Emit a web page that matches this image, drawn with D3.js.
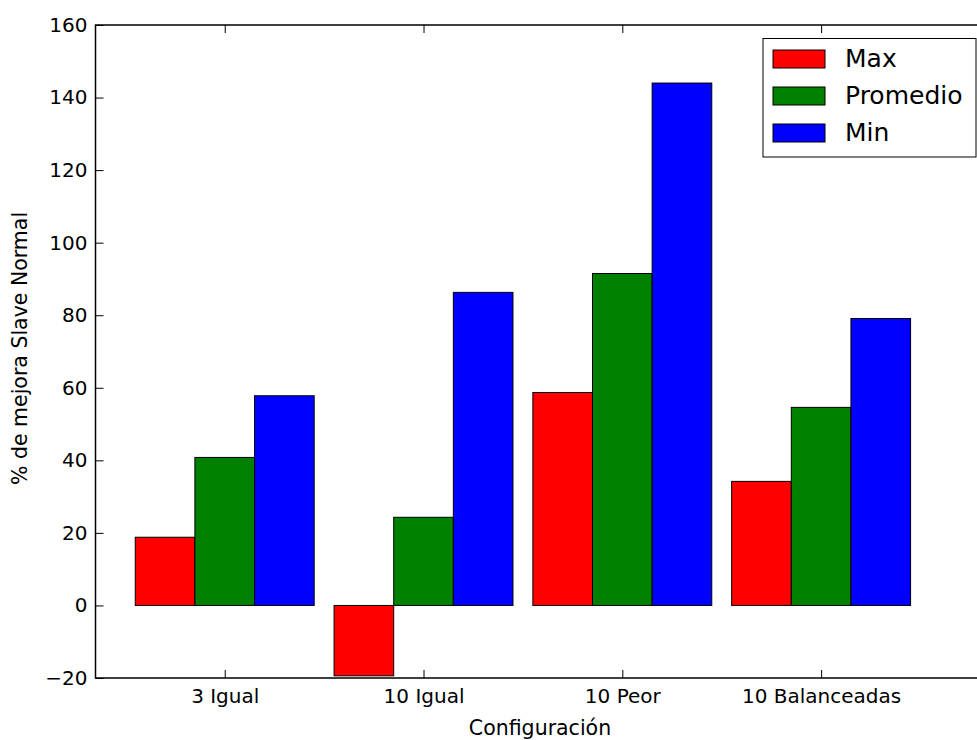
<!DOCTYPE html>
<html>
<head>
<meta charset="utf-8">
<script src="https://cdn.jsdelivr.net/npm/d3@7"></script>
<style>
  body { margin: 0; background: #fff; }
  svg { display: block; }
  text { font-family: "DejaVu Sans", sans-serif; fill: #000; }
</style>
</head>
<body>
<div class="container"></div>
<script>
const categories = ['3 Igual', '10 Igual', '10 Peor', '10 Balanceadas'];
const seriesNames = ['Max', 'Promedio', 'Min'];
const maxValues = [18.8, -19.4, 58.7, 34.2];
const avgValues = [40.8, 24.3, 91.5, 54.6];
const minValues = [57.8, 86.3, 144.0, 79.1];
const yTicks = [-20, 0, 20, 40, 60, 80, 100, 120, 140, 160];

const colors = ['#ff0000', '#008000', '#0000ff'];
const series = [maxValues, avgValues, minValues];

const WIDTH = 977;
const HEIGHT = 740;
const LEFT = 95.5, TOP = 25, BOTTOM = 678;
const BAR = 0.3;
const STEP = 198.8;

var svg = d3.select('.container').append('svg')
    .attr('width', WIDTH)
    .attr('height', HEIGHT);

// matplotlib-like positions: group i starts at i, bars 0.3 wide
var xScale = d3.scaleLinear()
    .domain([-0.2, 4.25])
    .range([LEFT, LEFT + 4.45 * STEP]);

var yScale = d3.scaleLinear()
    .domain([-20, 160])
    .range([BOTTOM, TOP]);

var bars = [];
series.forEach((vals, s) => {
    vals.forEach((v, i) => bars.push({ s: s, i: i, v: v }));
});

svg.append('g').selectAll('rect').data(bars)
    .enter().append('rect')
    .attr('x', d => xScale(d.i + d.s * BAR))
    .attr('width', d => xScale(d.i + (d.s + 1) * BAR) - xScale(d.i + d.s * BAR))
    .attr('y', d => yScale(Math.max(0, d.v)))
    .attr('height', d => Math.abs(yScale(d.v) - yScale(0)))
    .attr('fill', d => colors[d.s])
    .attr('stroke', '#000')
    .attr('stroke-width', 1);

// frame
var xEnd = xScale.range()[1];
svg.append('path')
    .attr('d', `M${xEnd},${TOP}H${LEFT}V${BOTTOM}H${xEnd}V${TOP}`)
    .attr('fill', 'none')
    .attr('stroke', '#000')
    .attr('stroke-width', 1.5);

var centers = categories.map((c, i) => i + 1.5 * BAR);

var xAxis = d3.axisBottom(xScale)
    .tickValues(centers)
    .tickFormat((d, i) => categories[i])
    .tickSizeInner(-8).tickSizeOuter(0).tickPadding(11);

var xTop = d3.axisTop(xScale)
    .tickValues(centers)
    .tickFormat('')
    .tickSizeInner(-8).tickSizeOuter(0);

var yAxis = d3.axisLeft(yScale)
    .tickValues(yTicks)
    .tickSizeInner(-8).tickSizeOuter(0).tickPadding(8);

function styleAxis(g) {
    g.select('.domain').remove();
    g.selectAll('line').attr('stroke', '#000').attr('stroke-width', 1);
    g.selectAll('text').style('font-family', '"DejaVu Sans", sans-serif')
        .style('font-size', '20px').attr('fill', '#000');
}

svg.append('g').attr('transform', `translate(0,${BOTTOM})`).call(xAxis).call(styleAxis);
svg.append('g').attr('transform', `translate(0,${TOP})`).call(xTop).call(styleAxis);
svg.append('g').attr('transform', `translate(${LEFT},0)`).call(yAxis).call(styleAxis);

// axis labels
svg.append('text')
    .attr('x', 540)
    .attr('y', 735)
    .attr('text-anchor', 'middle')
    .style('font-size', '20.5px')
    .text('Configuración');

svg.append('text')
    .attr('transform', `translate(27,${(TOP + BOTTOM) / 2 - 3}) rotate(-90)`)
    .attr('text-anchor', 'middle')
    .style('font-size', '20.5px')
    .text('% de mejora Slave Normal');

// legend
var legend = svg.append('g').attr('transform', 'translate(763,38.5)');
legend.append('rect')
    .attr('width', 213).attr('height', 118.5)
    .attr('fill', '#fff').attr('stroke', '#000').attr('stroke-width', 1);

var items = legend.selectAll('g.item').data(seriesNames)
    .enter().append('g').attr('class', 'item')
    .attr('transform', (d, i) => `translate(0,${i * 37})`);

items.append('rect')
    .attr('x', 10).attr('y', 11.5)
    .attr('width', 52).attr('height', 18)
    .attr('fill', (d, i) => colors[i])
    .attr('stroke', '#000').attr('stroke-width', 1);

items.append('text')
    .attr('x', 82).attr('y', 28.5)
    .style('font-size', '25px')
    .text(d => d);
</script>
</body>
</html>
